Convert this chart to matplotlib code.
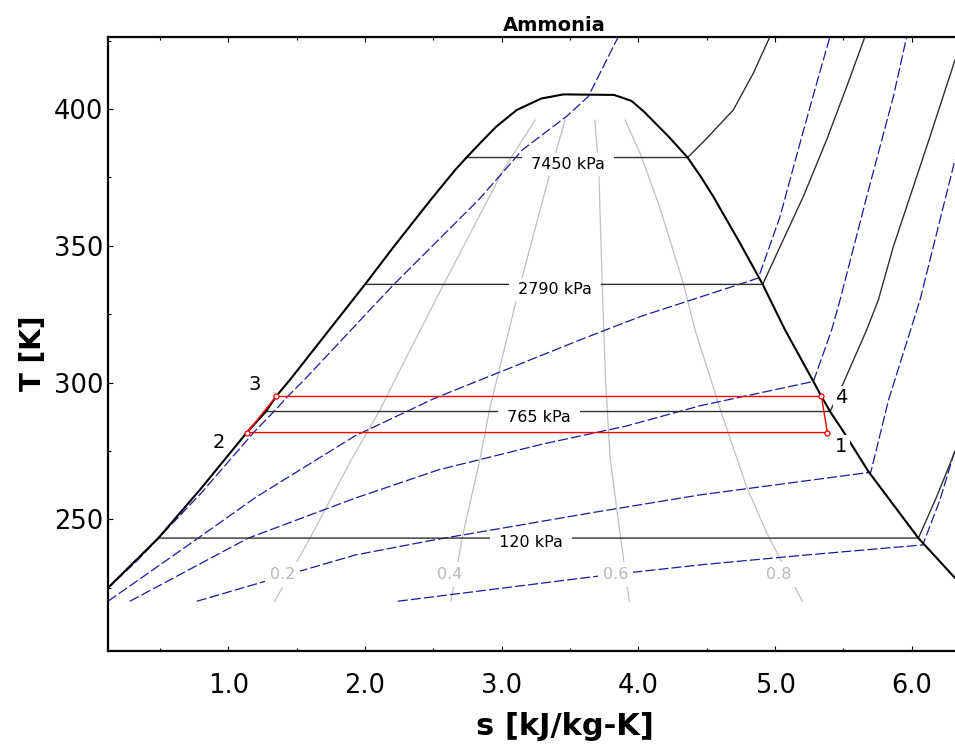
import matplotlib
matplotlib.use('Agg')
import matplotlib.pyplot as plt
from matplotlib.ticker import MultipleLocator, FormatStrFormatter

# saturation dome (liquid side up to critical, then vapour side down)
dome_s = [0.02, 0.12, 0.488, 0.793, 1.135, 1.275, 1.349, 1.451, 2.0, 2.215, 2.48, 2.66, 2.742,
          2.85, 2.96, 3.11, 3.29, 3.452, 3.822, 3.95, 4.04, 4.22, 4.36, 4.46, 4.548, 4.743,
          4.909, 5.072, 5.28, 5.339, 5.402, 5.499, 5.682, 6.048, 6.316, 6.49]
dome_T = [220, 224.9, 243.1, 260.8, 281.7, 289.4, 294.9, 301.0, 335.9, 350.0, 366.8, 377.8, 382.3,
          388.0, 393.6, 399.7, 403.9, 405.4, 405.2, 403.0, 399.1, 390.0, 382.3, 375.0, 368.0, 351.0,
          335.9, 319.3, 300.4, 294.9, 289.4, 282.1, 267.5, 243.1, 228.5, 220]

# isobars
p120_s = [0.488, 6.048, 6.18, 6.35]
p120_T = [243.1, 243.1, 258.0, 279.0]
p765_s = [1.275, 5.402, 5.499, 5.670, 5.755, 5.865, 6.109, 6.316]
p765_T = [289.4, 289.4, 299.8, 319.3, 330.2, 349.7, 386.3, 418.0]
p2790_s = [2.0, 4.909, 5.036, 5.206, 5.377, 5.524, 5.658]
p2790_T = [335.9, 335.9, 349.7, 368.0, 388.8, 408.3, 426.6]
p7450_s = [2.742, 4.36, 4.49, 4.694, 4.841, 4.963]
p7450_T = [382.3, 382.3, 388.8, 399.7, 413.2, 426.6]
isobar_names = ['120 kPa', '765 kPa', '2790 kPa', '7450 kPa']
isobar_lbl_s = [3.211, 3.273, 3.39, 3.483]
isobar_lbl_T = [241.4, 287.3, 334.0, 379.9]

# isochors (blue dashed)
va_s = [0.04, 0.34, 0.80, 1.185, 1.345, 1.434, 1.556, 2.207, 2.830, 3.024, 3.151, 3.473, 3.633, 3.854]
va_T = [221.0, 235.2, 259.5, 281.7, 290.0, 294.9, 301.0, 335.7, 366.8, 377.8, 385.1, 397.3, 404.6, 426.6]
vb_s = [0.12, 0.72, 1.2, 1.927, 2.33, 2.512, 3.573, 4.012, 4.877, 5.036, 5.182, 5.304, 5.402]
vb_T = [220.0, 241.0, 258.0, 280.5, 290.0, 294.3, 315.6, 324.1, 338.2, 360.7, 387.6, 409.5, 426.6]
vc_s = [0.28, 1.146, 1.927, 2.54, 3.3, 3.912, 4.451, 5.28, 5.414, 5.475, 5.67, 5.865, 5.963]
vc_T = [220.0, 243.1, 257.7, 268.1, 277.5, 284.1, 291.5, 300.4, 319.3, 330.2, 368.0, 404.6, 426.6]
vd_s = [0.77, 1.927, 2.512, 3.673, 4.451, 5.70, 5.83, 6.060, 6.157, 6.316]
vd_T = [220.0, 236.9, 242.5, 252.5, 258.9, 267.2, 293.7, 330.2, 349.7, 381.5]
ve_s = [2.24, 2.512, 3.673, 4.451, 5.2, 6.08, 6.206, 6.316]
ve_T = [220.0, 221.7, 229.0, 233.3, 236.8, 240.6, 257.1, 275.4]

# quality lines
x02_s = [1.338, 1.598, 1.90, 2.11, 2.219, 2.573, 3.012, 3.244]
x02_T = [219.9, 243.1, 271.8, 290.0, 301.0, 335.7, 377.8, 396.0]
x04_s = [2.629, 2.71, 2.84, 2.91, 3.134, 3.353, 3.463]
x04_T = [219.9, 243.1, 271.8, 290.0, 335.7, 376.6, 396.0]
x06_s = [3.934, 3.87, 3.794, 3.76, 3.735, 3.71, 3.681]
x06_T = [219.9, 243.1, 271.8, 300.0, 336.0, 378.0, 396.0]
x08_s = [5.20, 4.939, 4.79, 4.60, 4.414, 4.328, 4.15, 4.012, 3.902]
x08_T = [219.9, 244.9, 262.0, 290.0, 319.3, 336.4, 365.0, 383.9, 396.0]
quality_names = ['0.2', '0.4', '0.6', '0.8']
quality_lbl_s = [1.398, 2.617, 3.833, 5.03]
quality_lbl_T = [229.7, 229.7, 229.7, 229.7]

# refrigeration cycle states 1-4
cycle_s = [5.382, 1.137, 1.349, 5.339]
cycle_T = [281.7, 281.7, 294.9, 294.9]
state_names = ['1', '2', '3', '4']
state_lbl_s = [5.486, 0.930, 1.195, 5.484]
state_lbl_T = [276.5, 278.2, 299.2, 294.5]

W, H = 955, 745
fig = plt.figure(figsize=(W / 100, H / 100), dpi=100)
ax = fig.add_axes([108.3 / W, (H - 651) / H, (1000 - 108.3) / W, (651 - 36.7) / H])

gray = '#c0c0c0'
blue = '#1a1a9e'

for s, T in [(x02_s, x02_T), (x04_s, x04_T), (x06_s, x06_T), (x08_s, x08_T)]:
    ax.plot(s, T, color=gray, lw=0.9, zorder=1)

for s, T in [(va_s, va_T), (vb_s, vb_T), (vc_s, vc_T), (vd_s, vd_T), (ve_s, ve_T)]:
    ax.plot(s, T, color=blue, lw=0.9, dashes=(8, 2.5), zorder=2)

for s, T in [(p120_s, p120_T), (p765_s, p765_T), (p2790_s, p2790_T), (p7450_s, p7450_T)]:
    ax.plot(s, T, color='#303030', lw=1.0, zorder=3)

ax.plot(dome_s, dome_T, color='black', lw=1.5, zorder=4)

ax.plot(cycle_s + cycle_s[:1], cycle_T + cycle_T[:1], color='red', lw=1.0, zorder=5)
ax.plot(cycle_s, cycle_T, ls='none', marker='o', ms=3.6, mfc='white', mec='red', mew=0.9, zorder=6)

for name, s, T in zip(isobar_names, isobar_lbl_s, isobar_lbl_T):
    ax.text(s, T, ' ' + name + ' ', fontsize=11.5, ha='center', va='center', zorder=7,
            bbox=dict(boxstyle='square,pad=0.25', fc='white', ec='none'))

for name, s, T in zip(quality_names, quality_lbl_s, quality_lbl_T):
    ax.text(s, T, name, fontsize=11.5, color='#b8b8b8', ha='center', va='center', zorder=7,
            bbox=dict(boxstyle='square,pad=0.3', fc='white', ec='none'))

for name, s, T in zip(state_names, state_lbl_s, state_lbl_T):
    ax.text(s, T, name, fontsize=14, ha='center', va='center', zorder=7,
            bbox=dict(boxstyle='square,pad=0.12', fc='white', ec='none'))

ax.set_xlim(0.122, 0.122 + (1000 - 108.3) / 136.7)
ax.set_ylim(201.8, 426.5)
ax.xaxis.set_major_locator(MultipleLocator(1.0))
ax.xaxis.set_minor_locator(MultipleLocator(0.5))
ax.xaxis.set_major_formatter(FormatStrFormatter('%.1f'))
ax.yaxis.set_major_locator(MultipleLocator(50))
ax.yaxis.set_minor_locator(MultipleLocator(25))
ax.tick_params(which='both', direction='in', top=True, right=True, width=0.8, labelsize=18.5)
ax.tick_params(which='major', length=3.6)
ax.tick_params(which='minor', length=2.4)
ax.tick_params(axis='x', pad=16)
ax.tick_params(axis='y', pad=3.6)
for sp in ax.spines.values():
    sp.set_linewidth(1.6)

ax.set_title('Ammonia', fontsize=14, fontweight='bold', pad=4)
ax.set_xlabel('s [kJ/kg-K]', fontsize=22, fontweight='bold')
ax.set_ylabel('T [K]', fontsize=20, fontweight='bold')
ax.xaxis.set_label_coords(0.512, -0.0988)
ax.yaxis.set_label_coords(-0.069, 0.4846)

fig.savefig('out.png', dpi=100)
